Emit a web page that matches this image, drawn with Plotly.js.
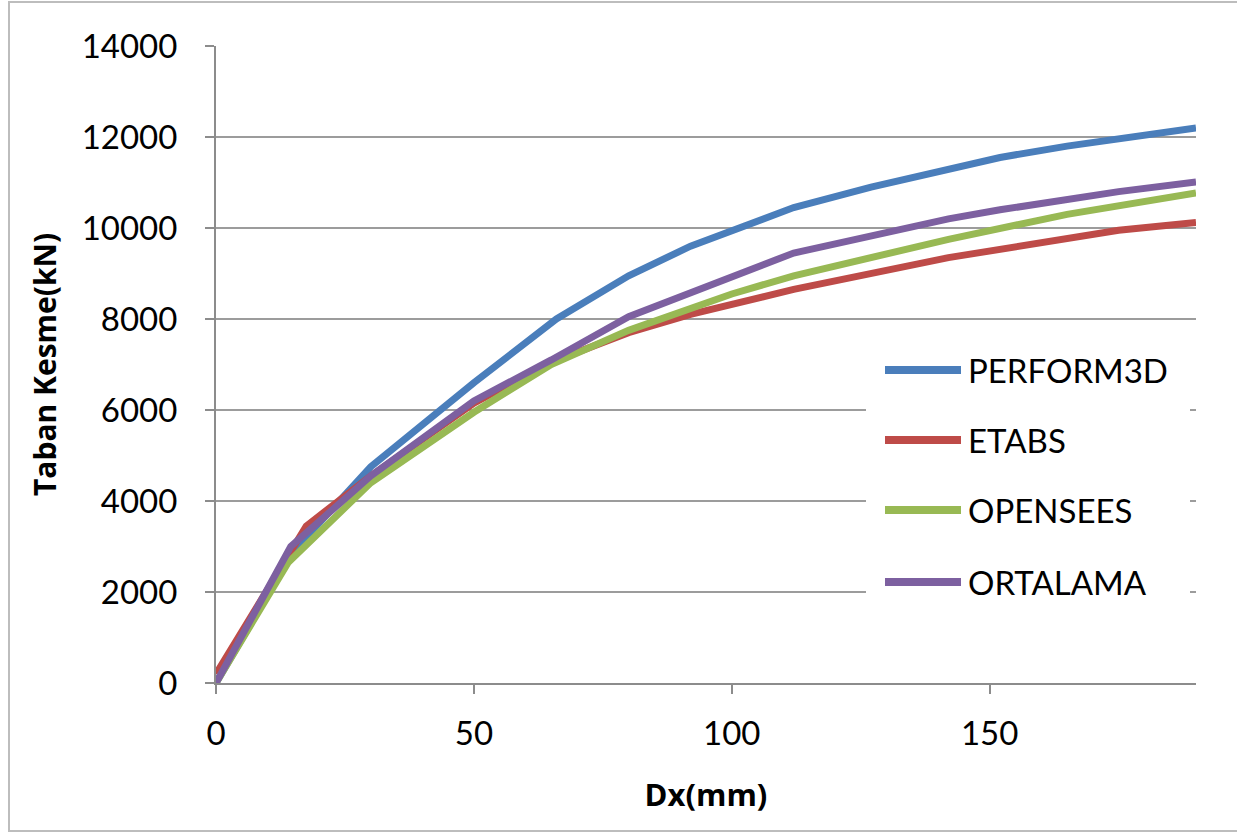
<!DOCTYPE html>
<html>
<head>
<meta charset="utf-8">
<script src="https://cdn.plot.ly/plotly-3.0.1.min.js"></script>
<style>html,body{margin:0;padding:0;background:#fff;}#chart{width:1237px;height:832px;}</style>
</head>
<body>
<div id="chart"></div>
<script>
// Series names and colours
var seriesNames = ['PERFORM3D', 'ETABS', 'OPENSEES', 'ORTALAMA'];
var seriesColors = ['#4A7EBB', '#BE4B48', '#98B954', '#7D60A0'];

// Data (Dx in mm, base shear in kN)
var perform3dX = [0, 15, 30, 50, 66, 80, 92, 112, 127, 142, 152, 165, 178, 190];
var perform3dY = [0, 2900, 4750, 6600, 8000, 8950, 9600, 10450, 10900, 11300, 11550, 11800, 12000, 12200];

var etabsX = [0, 17.5, 30, 50, 65, 80, 92, 112, 142, 175, 190];
var etabsY = [200, 3450, 4550, 6150, 7050, 7700, 8100, 8650, 9350, 9950, 10120];

var openseesX = [0, 14, 30, 50, 65, 80, 100, 112, 142, 165, 190];
var openseesY = [0, 2650, 4400, 5950, 7000, 7750, 8550, 8950, 9750, 10300, 10770];

var ortalamaX = [0, 14.5, 30, 50, 65, 80, 112, 142, 152, 175, 190];
var ortalamaY = [0, 3000, 4550, 6200, 7100, 8050, 9450, 10200, 10400, 10800, 11010];

var xTicks = [0, 50, 100, 150];
var yTicks = [0, 2000, 4000, 6000, 8000, 10000, 12000, 14000];

var xs = [perform3dX, etabsX, openseesX, ortalamaX];
var ys = [perform3dY, etabsY, openseesY, ortalamaY];

var traces = [];
for (var i = 0; i < 4; i++) {
  traces.push({
    x: xs[i], y: ys[i], name: seriesNames[i], type: 'scatter', mode: 'lines',
    line: {color: seriesColors[i], width: 7, shape: 'linear'},
    showlegend: false, cliponaxis: false
  });
}

var font = 'Lato, "Open Sans", "DejaVu Sans", sans-serif';
var tfont = '"Open Sans", Lato, "DejaVu Sans", sans-serif';
var W = 1237, H = 832, ml = 216, mr = 41, mt = 46, mb = 149;
var pw = W - ml - mr, ph = H - mt - mb;
function px2x(p) { return (p - ml) / pw; }
function py2y(p) { return (H - mb - p) / ph; }

var shapes = [
  {type: 'rect', xref: 'paper', yref: 'paper', x0: px2x(9), x1: px2x(1245), y0: py2y(831), y1: py2y(2),
   line: {color: '#BDBDBD', width: 2}, fillcolor: 'rgba(0,0,0,0)', layer: 'below'},
  {type: 'rect', xref: 'paper', yref: 'paper', x0: px2x(866), x1: px2x(1190), y0: py2y(622), y1: py2y(342),
   line: {width: 0}, fillcolor: '#ffffff', layer: 'above'}
];
var annotations = [];
var legendY = [370, 440, 510, 582];
for (var k = 0; k < 4; k++) {
  shapes.push({type: 'line', xref: 'paper', yref: 'paper', x0: px2x(885), x1: px2x(961),
    y0: py2y(legendY[k]), y1: py2y(legendY[k]), line: {color: seriesColors[k], width: 8}, layer: 'above'});
  annotations.push({xref: 'paper', yref: 'paper', x: px2x(966), y: py2y(legendY[k]), xanchor: 'left', yanchor: 'middle',
    text: seriesNames[k], showarrow: false, font: {family: font, size: 33, color: '#000'}});
}

var layout = {
  width: W, height: H,
  margin: {l: ml, r: mr, t: mt, b: mb, pad: 0},
  paper_bgcolor: '#ffffff', plot_bgcolor: '#ffffff',
  showlegend: false,
  font: {family: font, color: '#000'},
  xaxis: {
    range: [0, 190], tickvals: xTicks, ticktext: xTicks.map(String),
    showgrid: false, zeroline: false, showline: true, linecolor: '#8C8C8C', linewidth: 2,
    ticks: 'outside', ticklen: 9, tickwidth: 2, tickcolor: '#8C8C8C',
    tickfont: {family: font, size: 33, color: '#000'}, ticklabelstandoff: 11,
    title: {text: '<b>Dx(mm)</b>', font: {family: tfont, size: 31, color: '#000'}, standoff: 34}
  },
  yaxis: {
    range: [0, 14000], tickvals: yTicks, ticktext: yTicks.map(String),
    showgrid: true, gridcolor: '#9C9C9C', gridwidth: 2,
    zeroline: false, showline: true, linecolor: '#8C8C8C', linewidth: 2,
    ticks: 'outside', ticklen: 9, tickwidth: 2, tickcolor: '#8C8C8C',
    tickfont: {family: font, size: 33, color: '#000'}, ticklabelstandoff: 21,
    title: {text: '<b>Taban Kesme(kN)</b>', font: {family: tfont, size: 30, color: '#000'}, standoff: 16}
  },
  shapes: shapes,
  annotations: annotations
};

Plotly.newPlot('chart', traces, layout, {staticPlot: true, displayModeBar: false});
</script>
</body>
</html>
